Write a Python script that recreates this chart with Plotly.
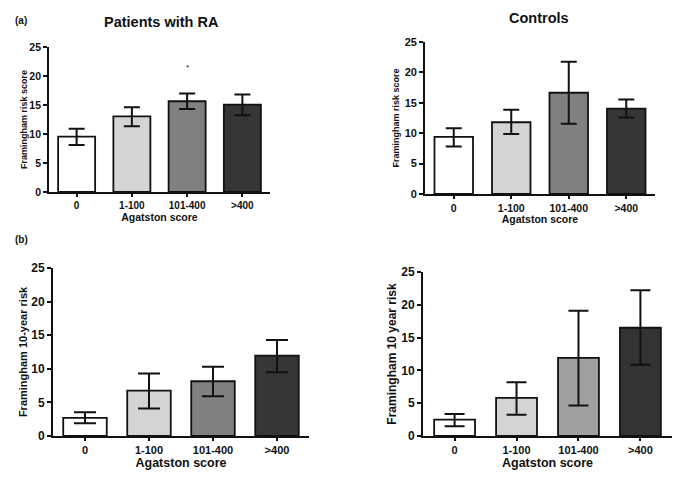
import plotly.graph_objects as go

categories = ["0", "1-100", "101-400", ">400"]

# Panel (a) left: Patients with RA, Framingham risk score
ra_score = [9.55, 13.05, 15.65, 15.05]
ra_score_hi = [10.9, 14.6, 17.0, 16.8]
ra_score_lo = [8.1, 11.35, 14.3, 13.25]

# Panel (a) right: Controls, Framingham risk score
ctl_score = [9.4, 11.8, 16.65, 14.05]
ctl_score_hi = [10.8, 13.85, 21.75, 15.55]
ctl_score_lo = [7.8, 9.85, 11.55, 12.6]

# Panel (b) left: Framingham 10-year risk (RA)
ra_risk = [2.7, 6.75, 8.15, 11.95]
ra_risk_hi = [3.55, 9.3, 10.3, 14.3]
ra_risk_lo = [1.9, 4.1, 5.9, 9.5]

# Panel (b) right: Framingham 10 year risk (controls)
ctl_risk = [2.5, 5.8, 11.9, 16.5]
ctl_risk_hi = [3.35, 8.2, 19.1, 22.2]
ctl_risk_lo = [1.5, 3.25, 4.65, 10.85]

y_ticks = [0, 5, 10, 15, 20, 25]

colors_a = ["#ffffff", "#d4d4d4", "#808080", "#363636"]
colors_b_right = ["#ffffff", "#d4d4d4", "#a0a0a0", "#333333"]

FONT = "Liberation Sans"
H = 483.0


def py(px):
    return 1 - px / H


panels = [
    dict(v=ra_score, hi=ra_score_hi, lo=ra_score_lo, colors=colors_a,
         dx=[49 / 685, 270 / 685], dy=[py(192), py(47)], xr=[-0.5, 3.5],
         ytitle="Framingham risk score", ytsize=9, tsize=10.5, xtsize=10, xttsize=10.5,
         cap=8, bw=0.67, xstand=0, ystand=0),
    dict(v=ctl_score, hi=ctl_score_hi, lo=ctl_score_lo, colors=colors_a,
         dx=[425 / 685, 655 / 685], dy=[py(194), py(42)], xr=[-0.5, 3.5],
         ytitle="Framingham risk score", ytsize=9, tsize=11, xtsize=10.5, xttsize=10.5,
         cap=8, bw=0.67, xstand=2, ystand=4),
    dict(v=ra_risk, hi=ra_risk_hi, lo=ra_risk_lo, colors=colors_a,
         dx=[53 / 685, 309 / 685], dy=[py(436), py(268)], xr=[-0.5, 3.5],
         ytitle="Framingham 10-year risk", ytsize=11, tsize=12, xtsize=11, xttsize=12.5,
         cap=11, bw=0.68, xstand=1, ystand=1),
    dict(v=ctl_risk, hi=ctl_risk_hi, lo=ctl_risk_lo, colors=colors_b_right,
         dx=[423 / 685, 672 / 685], dy=[py(436), py(272)], xr=[-0.51, 3.51],
         ytitle="Framingham 10 year risk", ytsize=12, tsize=12, xtsize=11, xttsize=12.5,
         cap=10, bw=0.66, xstand=2, ystand=2),
]

fig = go.Figure()
layout = {}
for i, p in enumerate(panels, start=1):
    sfx = "" if i == 1 else str(i)
    fig.add_trace(go.Bar(
        x=categories, y=p["v"], width=p["bw"],
        marker=dict(color=p["colors"], line=dict(color="#111111", width=1.8)),
        error_y=dict(type="data", symmetric=False,
                     array=[h - v for h, v in zip(p["hi"], p["v"])],
                     arrayminus=[v - l for v, l in zip(p["v"], p["lo"])],
                     color="#111111", thickness=2, width=p["cap"]),
        xaxis="x" + sfx, yaxis="y" + sfx, showlegend=False,
    ))
    layout["xaxis" + sfx] = dict(
        domain=p["dx"], anchor="y" + sfx, type="category", range=p["xr"], automargin=False,
        showline=True, linecolor="#111111", linewidth=1.8, showgrid=False, zeroline=False,
        ticks="outside", ticklen=3, tickwidth=1.5, tickcolor="#111111",
        tickfont=dict(family=FONT, size=p["xtsize"], color="#111111", weight="bold"),
        title=dict(text="Agatston score", standoff=p["xstand"],
                   font=dict(family=FONT, size=p["xttsize"], color="#111111", weight="bold")),
    )
    layout["yaxis" + sfx] = dict(
        domain=p["dy"], anchor="x" + sfx, range=[0, 25], tickvals=y_ticks, automargin=False,
        showline=True, linecolor="#111111", linewidth=1.8, showgrid=False, zeroline=False,
        ticks="outside", ticklen=4, tickwidth=1.5, tickcolor="#111111",
        tickfont=dict(family=FONT, size=p["tsize"], color="#111111", weight="bold"),
        title=dict(text=p["ytitle"], standoff=p["ystand"],
                   font=dict(family=FONT, size=p["ytsize"], color="#111111", weight="bold")),
    )

fig.update_layout(**layout)

annotations = [
    dict(text="Patients with RA", x=161 / 685, y=py(22), size=14.5),
    dict(text="Controls", x=539 / 685, y=py(18), size=14.5),
    dict(text="(a)", x=21 / 685, y=py(20), size=10),
    dict(text="(b)", x=21 / 685, y=py(239), size=10),
]
for a in annotations:
    fig.add_annotation(text=a["text"], x=a["x"], y=a["y"], xref="paper", yref="paper",
                       showarrow=False, xanchor="center", yanchor="middle",
                       font=dict(family=FONT, size=a["size"], color="#111111", weight="bold"))

fig.add_annotation(text="*", x="101-400", y=21.5, xref="x", yref="y", showarrow=False,
                   yanchor="middle", font=dict(family=FONT, size=8, color="#111111"))

fig.update_layout(
    width=685, height=483,
    margin=dict(l=0, r=0, t=0, b=0),
    paper_bgcolor="white", plot_bgcolor="white",
    bargap=0.33,
)

fig.write_html("out.html", config={"displayModeBar": False},
               post_script="document.body.style.margin='0';")
